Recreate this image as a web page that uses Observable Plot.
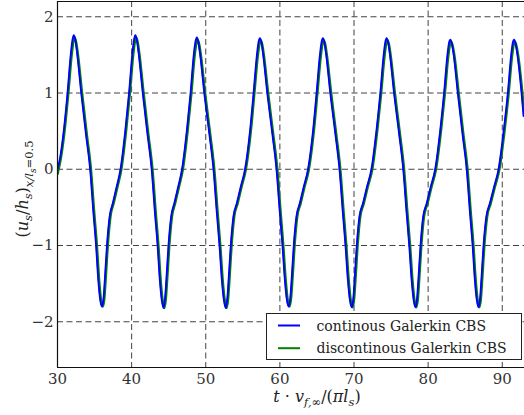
<!DOCTYPE html>
<html>
<head>
<meta charset="utf-8">
<script src="https://cdn.jsdelivr.net/npm/d3@7"></script>
<script src="https://cdn.jsdelivr.net/npm/@observablehq/plot@0.6"></script>
<style>
  html, body { margin: 0; padding: 0; background: #fff; }
  #chart { position: relative; width: 524px; height: 415px; overflow: hidden; }
  #chart svg, #chart svg text, #chart svg tspan { font-family: 'DejaVu Serif', 'Liberation Serif', serif !important; }
</style>
</head>
<body>
<div id="chart"></div>
<script>
const xTicks = [30, 40, 50, 60, 70, 80, 90];
const yTicks = [-2, -1, 0, 1, 2];
const xDomain = [30, 93];
const yDomain = [-2.6, 2.2];
const seriesNames = ["continous Galerkin CBS", "discontinous Galerkin CBS"];
const seriesColors = ["#0000ff", "#008000"];

const tBlue = [
30.0, 30.35, 30.85, 31.35, 31.8, 32.02, 32.2,
32.4, 32.65, 33.2, 33.85, 34.4, 34.85, 35.2, 35.5, 35.77, 36.0,
36.2, 36.4, 36.67, 37.03, 37.45, 37.98, 38.5, 39.15, 39.65, 40.1, 40.32, 40.5,
40.7, 40.95, 41.5, 42.15, 42.7, 43.15, 43.5, 43.8, 44.07, 44.3,
44.5, 44.7, 44.97, 45.33, 45.75, 46.28, 46.8, 47.45, 47.95, 48.4, 48.62, 48.8,
49.0, 49.25, 49.8, 50.5, 51.04, 51.5, 51.85, 52.17, 52.45, 52.7,
52.9, 53.1, 53.37, 53.73, 54.18, 54.72, 55.3, 55.98, 56.45, 56.9, 57.12, 57.3,
57.5, 57.75, 58.3, 59.0, 59.54, 60.0, 60.35, 60.67, 60.95, 61.2,
61.4, 61.6, 61.87, 62.23, 62.68, 63.22, 63.8, 64.48, 64.95, 65.4, 65.62, 65.8,
66.0, 66.25, 66.8, 67.5, 68.04, 68.5, 68.85, 69.17, 69.45, 69.7,
69.9, 70.1, 70.37, 70.73, 71.2, 71.75, 72.35, 73.03, 73.55, 74.0, 74.22, 74.4,
74.6, 74.85, 75.4, 76.1, 76.64, 77.1, 77.45, 77.77, 78.05, 78.3,
78.5, 78.7, 78.97, 79.33, 79.8, 80.35, 80.95, 81.63, 82.15, 82.6, 82.82, 83.0,
83.2, 83.45, 84.0, 84.65, 85.2, 85.65, 86.0, 86.3, 86.57, 86.8,
87.0, 87.2, 87.47, 87.85, 88.32, 88.9, 89.5, 90.2, 90.75, 91.2, 91.42, 91.6,
91.8, 92.05, 92.6, 92.87
];
const uBlue = [
0, 0.15, 0.51, 1.0, 1.52, 1.7, 1.76,
1.7, 1.52, 1.0, 0.45, 0, -0.58, -1.0, -1.45, -1.72, -1.80,
-1.7, -1.42, -1.0, -0.62, -0.45, -0.23, 0, 0.51, 1.0, 1.52, 1.7, 1.76,
1.7, 1.52, 1.0, 0.45, 0, -0.58, -1.0, -1.45, -1.72, -1.82,
-1.7, -1.42, -1.0, -0.62, -0.45, -0.23, 0, 0.51, 1.0, 1.52, 1.68, 1.73,
1.67, 1.5, 1.0, 0.45, 0, -0.58, -1.0, -1.45, -1.72, -1.82,
-1.7, -1.42, -1.0, -0.62, -0.45, -0.23, 0, 0.51, 1.0, 1.5, 1.67, 1.72,
1.67, 1.5, 1.0, 0.45, 0, -0.58, -1.0, -1.45, -1.72, -1.80,
-1.69, -1.42, -1.0, -0.62, -0.45, -0.23, 0, 0.51, 1.0, 1.5, 1.67, 1.72,
1.67, 1.5, 1.0, 0.45, 0, -0.58, -1.0, -1.45, -1.72, -1.81,
-1.7, -1.42, -1.0, -0.62, -0.45, -0.23, 0, 0.51, 1.0, 1.5, 1.67, 1.72,
1.67, 1.5, 1.0, 0.45, 0, -0.58, -1.0, -1.45, -1.72, -1.81,
-1.7, -1.42, -1.0, -0.62, -0.45, -0.23, 0, 0.51, 1.0, 1.5, 1.66, 1.70,
1.65, 1.5, 1.0, 0.45, 0, -0.58, -1.0, -1.45, -1.72, -1.81,
-1.7, -1.42, -1.0, -0.62, -0.45, -0.23, 0, 0.51, 1.0, 1.5, 1.66, 1.70,
1.65, 1.5, 1.0, 0.7
];

const tGreen = [
30.0, 30.45, 30.95, 31.45, 31.9, 32.12, 32.3,
32.5, 32.75, 33.3, 33.95, 34.5, 34.95, 35.3, 35.6, 35.87, 36.1,
36.3, 36.5, 36.77, 37.13, 37.55, 38.08, 38.6, 39.25, 39.75, 40.2, 40.42, 40.6,
40.8, 41.05, 41.6, 42.25, 42.8, 43.25, 43.6, 43.9, 44.17, 44.4,
44.6, 44.8, 45.07, 45.43, 45.85, 46.38, 46.9, 47.55, 48.05, 48.5, 48.72, 48.9,
49.1, 49.35, 49.9, 50.6, 51.14, 51.6, 51.95, 52.27, 52.55, 52.8,
53.0, 53.2, 53.47, 53.83, 54.28, 54.82, 55.4, 56.08, 56.55, 57.0, 57.22, 57.4,
57.6, 57.85, 58.4, 59.1, 59.64, 60.1, 60.45, 60.77, 61.05, 61.3,
61.5, 61.7, 61.97, 62.33, 62.78, 63.32, 63.9, 64.58, 65.05, 65.5, 65.72, 65.9,
66.1, 66.35, 66.9, 67.6, 68.14, 68.6, 68.95, 69.27, 69.55, 69.8,
70.0, 70.2, 70.47, 70.83, 71.3, 71.85, 72.45, 73.13, 73.65, 74.1, 74.32, 74.5,
74.7, 74.95, 75.5, 76.2, 76.74, 77.2, 77.55, 77.87, 78.15, 78.4,
78.6, 78.8, 79.07, 79.43, 79.9, 80.45, 81.05, 81.73, 82.25, 82.7, 82.92, 83.1,
83.3, 83.55, 84.1, 84.75, 85.3, 85.75, 86.1, 86.4, 86.67, 86.9,
87.1, 87.3, 87.57, 87.95, 88.42, 89.0, 89.6, 90.3, 90.85, 91.3, 91.52, 91.7,
91.9, 92.15, 92.7, 92.97
];
const uGreen = [
-0.06, 0.15, 0.51, 1.0, 1.5, 1.67, 1.73,
1.67, 1.5, 1.0, 0.45, 0, -0.58, -1.0, -1.45, -1.72, -1.80,
-1.7, -1.42, -1.0, -0.62, -0.45, -0.23, 0, 0.51, 1.0, 1.5, 1.67, 1.73,
1.67, 1.5, 1.0, 0.45, 0, -0.58, -1.0, -1.45, -1.72, -1.82,
-1.7, -1.42, -1.0, -0.62, -0.45, -0.23, 0, 0.51, 1.0, 1.5, 1.65, 1.70,
1.64, 1.48, 1.0, 0.45, 0, -0.58, -1.0, -1.45, -1.72, -1.82,
-1.7, -1.42, -1.0, -0.62, -0.45, -0.23, 0, 0.51, 1.0, 1.48, 1.64, 1.69,
1.64, 1.48, 1.0, 0.45, 0, -0.58, -1.0, -1.45, -1.72, -1.80,
-1.69, -1.42, -1.0, -0.62, -0.45, -0.23, 0, 0.51, 1.0, 1.48, 1.64, 1.69,
1.64, 1.48, 1.0, 0.45, 0, -0.58, -1.0, -1.45, -1.72, -1.81,
-1.7, -1.42, -1.0, -0.62, -0.45, -0.23, 0, 0.51, 1.0, 1.48, 1.64, 1.69,
1.64, 1.48, 1.0, 0.45, 0, -0.58, -1.0, -1.45, -1.72, -1.81,
-1.7, -1.42, -1.0, -0.62, -0.45, -0.23, 0, 0.51, 1.0, 1.48, 1.63, 1.67,
1.62, 1.48, 1.0, 0.45, 0, -0.58, -1.0, -1.45, -1.72, -1.81,
-1.7, -1.42, -1.0, -0.62, -0.45, -0.23, 0, 0.51, 1.0, 1.48, 1.63, 1.67,
1.62, 1.48, 1.0, 0.7
];

const FONT = "'DejaVu Serif', 'Liberation Serif', serif";
const gridStyle = {stroke: "#222", strokeOpacity: 0.85, strokeWidth: 1, strokeDasharray: "6,3.5"};
const fmt = d => (d < 0 ? "\u2212" + Math.abs(d) : String(d));

const chart = Plot.plot({
  width: 524,
  height: 415,
  marginLeft: 57,
  marginRight: 0,
  marginTop: 1,
  marginBottom: 48,
  style: {fontFamily: FONT, fontSize: "15px", color: "#222", background: "#fff"},
  x: {domain: xDomain},
  y: {domain: yDomain},
  marks: [
    Plot.gridX(xTicks, gridStyle),
    Plot.gridY(yTicks, gridStyle),
    Plot.line(tGreen, {x: tGreen, y: uGreen, stroke: seriesColors[1], strokeWidth: 2.6, curve: "monotone-x", clip: true}),
    Plot.line(tBlue, {x: tBlue, y: uBlue, stroke: seriesColors[0], strokeWidth: 1.8, curve: "monotone-x", clip: true}),
    Plot.ruleX([xDomain[0]], {stroke: "#111", strokeWidth: 1.2}),
    Plot.ruleY(yDomain, {stroke: "#111", strokeWidth: 1.2}),
    Plot.axisX(xTicks, {tickSize: 0, tickPadding: 6, fontSize: 15, fontFamily: FONT, label: null, fill: "#333", tickFormat: fmt}),
    Plot.axisY(yTicks, {tickSize: 0, tickPadding: 4, fontSize: 15, fontFamily: FONT, label: null, fill: "#333", tickFormat: fmt})
  ]
});
document.getElementById("chart").appendChild(chart);

const svg = d3.select(chart);

// x axis label: t · v_{f,∞}/(π l_s)
const xl = svg.append("text")
  .attr("x", 317).attr("y", 402)
  .attr("text-anchor", "middle")
  .attr("font-family", FONT).attr("font-size", 16).attr("fill", "#222");
xl.append("tspan").attr("font-style", "italic").text("t");
xl.append("tspan").text(" · ");
xl.append("tspan").attr("font-style", "italic").text("v");
xl.append("tspan").attr("font-style", "italic").attr("font-size", 11.5).attr("dy", 4).text("f,");
xl.append("tspan").attr("font-size", 11.5).text("∞");
xl.append("tspan").attr("dy", -4).text("/(");
xl.append("tspan").attr("font-style", "italic").text("πl");
xl.append("tspan").attr("font-style", "italic").attr("font-size", 11.5).attr("dy", 4).text("s");
xl.append("tspan").attr("dy", -4).text(")");

// y axis label: (u_s/h_s)_{x/l_s=0.5}
const yl = svg.append("text")
  .attr("transform", "translate(28,189) rotate(-90)")
  .attr("text-anchor", "middle")
  .attr("font-family", FONT).attr("font-size", 16).attr("fill", "#222");
yl.append("tspan").text("(");
yl.append("tspan").attr("font-style", "italic").text("u");
yl.append("tspan").attr("font-style", "italic").attr("font-size", 11.5).attr("dy", 4).text("s");
yl.append("tspan").attr("dy", -4).text("/");
yl.append("tspan").attr("font-style", "italic").text("h");
yl.append("tspan").attr("font-style", "italic").attr("font-size", 11.5).attr("dy", 4).text("s");
yl.append("tspan").attr("dy", -4).text(")");
yl.append("tspan").attr("font-style", "italic").attr("font-size", 11.5).attr("dy", 5).text("x/l");
yl.append("tspan").attr("font-style", "italic").attr("font-size", 9).attr("dy", 3).text("s");
yl.append("tspan").attr("font-size", 11.5).attr("dy", -3).text("=0.5");

// legend
const lg = svg.append("g");
lg.append("rect").attr("x", 266.5).attr("y", 313.5).attr("width", 255).attr("height", 46)
  .attr("fill", "#fff").attr("stroke", "#222").attr("stroke-width", 1);
seriesNames.forEach((name, i) => {
  const cy = 325.5 + i * 22.7;
  lg.append("line").attr("x1", 278).attr("x2", 300).attr("y1", cy).attr("y2", cy)
    .attr("stroke", seriesColors[i]).attr("stroke-width", 2);
  lg.append("text").attr("x", 316.5).attr("y", cy + 5)
    .attr("text-anchor", "start")
    .attr("font-family", FONT).attr("font-size", 14).attr("fill", "#222").text(name);
});
</script>
</body>
</html>
